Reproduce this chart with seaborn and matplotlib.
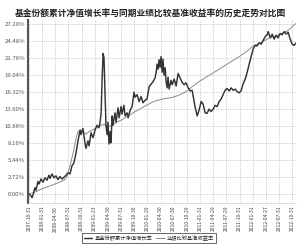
import matplotlib
matplotlib.use("Agg")
import matplotlib.pyplot as plt
import seaborn as sns
import pandas as pd

# ---------------- data ----------------
title = "基金份额累计净值增长率与同期业绩比较基准收益率的历史走势对比图"
fund_label = "基金份额累计净值增长率"
bench_label = "业绩比较基准收益率"

# trading-day index (ticks every 60 trading days)
fund_day = [0, 9, 14, 18, 27, 32, 41, 46, 55, 64, 73, 82, 91, 96, 105, 114, 123, 132, 141, 151,
            160, 169, 178, 187, 196, 205, 214, 224, 233, 237, 246, 256, 260, 269, 274, 283, 292,
            301, 310, 319, 324, 329, 333, 338, 342, 347, 351, 356, 360, 365, 370, 374, 379, 383,
            392, 397, 406, 411, 420, 424, 433, 438, 447, 452, 461, 470, 479, 484, 493, 502, 511,
            520, 529, 538, 548, 557, 566, 575, 580, 584, 589, 593, 598, 602, 607, 611, 616, 621,
            625, 630, 634, 639, 648, 653, 662, 671, 680, 689, 698, 707, 716, 726, 735, 744, 748,
            757, 767, 776, 785, 794, 803, 812, 821, 830, 840, 849, 858, 867, 876, 885, 894, 903,
            913, 922, 931, 940, 949, 958, 967, 976, 986, 995, 1004, 1013, 1022, 1031, 1040, 1049,
            1059, 1068, 1077, 1086, 1091, 1100, 1109, 1118, 1127, 1136, 1145, 1154, 1164, 1173,
            1182, 1191, 1200, 1209, 1218]
fund_val = [0.0, -0.3, -0.6, -0.2, 1.0, 0.6, 2.0, 1.6, 2.4, 1.9, 2.6, 2.2, 3.0, 2.5, 3.2, 2.6,
            2.9, 2.3, 2.8, 2.4, 2.7, 3.0, 3.4, 3.2, 4.5, 5.0, 6.5, 8.6, 10.2, 9.5, 10.5, 8.0, 7.3,
            8.5, 7.7, 9.8, 9.0, 10.2, 11.0, 10.6, 11.5, 13.0, 18.0, 22.5, 21.8, 16.0, 11.0, 9.5,
            11.5, 8.0, 10.0, 8.2, 12.5, 11.0, 13.0, 11.5, 13.8, 12.2, 14.0, 12.8, 14.2, 12.5, 13.0,
            12.2, 13.4, 14.0, 16.3, 15.5, 15.9, 14.8, 15.6, 14.6, 15.0, 15.2, 17.2, 17.6, 18.0,
            18.6, 19.5, 20.8, 20.0, 21.5, 20.3, 22.0, 19.5, 21.6, 19.0, 20.2, 18.0, 17.0, 18.7,
            16.8, 18.2, 17.5, 18.4, 17.3, 19.3, 18.6, 17.9, 17.5, 17.8, 17.0, 16.5, 16.6, 15.8,
            14.0, 12.5, 13.5, 14.8, 14.4, 13.0, 12.9, 13.6, 13.2, 13.6, 14.2, 14.0, 14.8, 15.2,
            15.9, 16.6, 16.9, 16.5, 17.0, 16.6, 16.8, 16.4, 16.2, 16.5, 17.6, 18.4, 19.5, 20.8,
            22.0, 23.2, 23.8, 23.7, 24.2, 24.0, 24.6, 25.2, 25.5, 26.0, 25.0, 25.6, 24.8, 25.4,
            25.0, 25.7, 25.5, 26.0, 25.6, 25.9, 24.8, 24.0, 23.8, 24.2]

bench_day = [0, 27, 50, 73, 96, 119, 141, 160, 173, 187, 201, 214, 224, 233, 246, 260, 274, 287,
             301, 315, 329, 342, 356, 370, 388, 406, 424, 443, 461, 484, 506, 529, 552, 575, 598,
             621, 643, 666, 689, 721, 748, 780, 812, 840, 872, 903, 931, 963, 995, 1022, 1054,
             1086, 1113, 1145, 1177, 1196, 1209, 1218]
bench_val = [0.0, 0.3, 0.7, 1.0, 1.3, 1.6, 1.9, 2.2, 2.8, 4.5, 6.5, 8.8, 10.0, 10.3, 10.0, 9.6,
             10.0, 10.2, 10.5, 10.8, 11.0, 11.2, 10.6, 10.9, 11.2, 11.6, 11.9, 12.3, 12.7, 13.2,
             13.6, 14.1, 14.5, 14.9, 15.1, 15.3, 15.4, 15.6, 15.9, 16.5, 17.3, 18.1, 18.8, 19.4,
             20.1, 20.8, 21.4, 22.1, 22.9, 23.7, 24.2, 24.8, 25.2, 25.6, 26.1, 26.6, 27.1, 27.3]

tick_day = [0, 60, 120, 180, 240, 300, 360, 420, 480, 540, 600, 660, 720, 780, 840, 900, 960,
            1020, 1080, 1140, 1200]
tick_labels = ["2007-10-31", "2008-01-31", "2008-04-30", "2008-07-31", "2008-10-31",
               "2009-01-23", "2009-04-30", "2009-07-31", "2009-10-30", "2010-01-29",
               "2010-04-30", "2010-07-30", "2010-10-29", "2011-01-31", "2011-04-29",
               "2011-07-29", "2011-10-31", "2012-01-31", "2012-04-27", "2012-07-31",
               "2012-10-31"]
ytick_vals = [0.0, 2.72, 5.44, 8.16, 10.88, 13.60, 16.32, 19.04, 21.76, 24.48, 27.20]
ytick_labels = ["0.00%", "2.72%", "5.44%", "8.16%", "10.88%", "13.60%", "16.32%",
                "19.04%", "21.76%", "24.48%", "27.20%"]

# ---------------- plot ----------------
sns.set_theme(style="white")
plt.rcParams['font.family'] = ['Noto Sans CJK SC', 'DejaVu Sans']

fig = plt.figure(figsize=(3.0, 2.47), dpi=100)
ax = fig.add_axes([0.093, 0.178, 0.894, 0.742])

fund_df = pd.DataFrame({"day": fund_day, "val": fund_val})
bench_df = pd.DataFrame({"day": bench_day, "val": bench_val})

sns.lineplot(data=bench_df, x="day", y="val", ax=ax, color="#8a8a8a", linewidth=0.7,
             label=bench_label, legend=False)
sns.lineplot(data=fund_df, x="day", y="val", ax=ax, color="#333333", linewidth=1.05,
             label=fund_label, legend=False)

ax.set_xlim(-5, 1218)
ax.set_ylim(-1.45, 27.9)
ax.set_xticks(tick_day)
ax.set_xticklabels(tick_labels, rotation=90, fontsize=3.6, color="#444444")
ax.set_yticks(ytick_vals)
ax.set_yticklabels(ytick_labels, fontsize=4.3, color="#555555")
ax.set_xlabel("")
ax.set_ylabel("")
ax.tick_params(axis="both", length=0, pad=2)

ax.grid(True, linestyle=(0, (1, 1.5)), color="#a8a8a8", linewidth=0.5)
for s in ["top", "right"]:
    ax.spines[s].set_visible(False)
ax.spines["left"].set_color("#555555")
ax.spines["left"].set_linewidth(1.5)
ax.spines["bottom"].set_color("#cccccc")
ax.spines["bottom"].set_linewidth(0.5)

fig.text(0.5, 0.945, title, ha="center", va="center", fontsize=6.3, fontweight="bold",
         color="#222222")

handles, labels = ax.get_legend_handles_labels()
order = [labels.index(fund_label), labels.index(bench_label)]
leg = fig.legend([handles[i] for i in order], [labels[i] for i in order],
                 loc="center", bbox_to_anchor=(0.497, 0.037), ncol=2, fontsize=3.8,
                 frameon=True, fancybox=False, edgecolor="#222222", handlelength=1.6,
                 handletextpad=0.4, columnspacing=0.8, borderpad=0.4)
leg.get_frame().set_linewidth(0.6)

fig.savefig("out.png", dpi=100)
